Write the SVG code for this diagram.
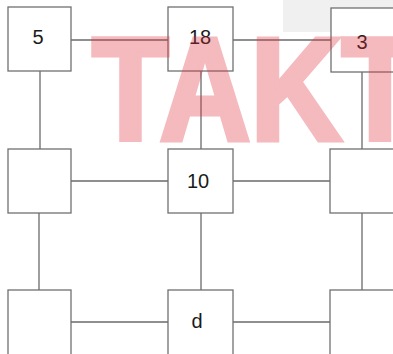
<svg xmlns="http://www.w3.org/2000/svg" width="393" height="354" viewBox="0 0 393 354">
<style>
.box{fill:#ffffff;stroke:#707070;stroke-width:1.3}
.lbl{font-family:"Liberation Sans",Arial,sans-serif;font-size:20px;fill:#1a1a1a;text-anchor:middle}
.edge{stroke:#6a6a6a;stroke-width:1.3;fill:none}
</style>
<rect x="0" y="0" width="393" height="354" fill="#ffffff"/>
<rect x="283" y="0" width="110" height="32" fill="#f0f0f0"/>
<g id="connectors">
<line class="edge" x1="71" y1="40" x2="168" y2="40"/>
<line class="edge" x1="233" y1="40" x2="331" y2="40"/>
<line class="edge" x1="71" y1="181" x2="168" y2="181"/>
<line class="edge" x1="233" y1="181" x2="330" y2="181"/>
<line class="edge" x1="71" y1="322" x2="168" y2="322"/>
<line class="edge" x1="233" y1="322" x2="330" y2="322"/>
<line class="edge" x1="40" y1="71" x2="40" y2="149"/>
<line class="edge" x1="201" y1="71" x2="201" y2="149"/>
<line class="edge" x1="362" y1="72" x2="362" y2="149"/>
<line class="edge" x1="39" y1="213" x2="39" y2="290"/>
<line class="edge" x1="201" y1="213" x2="201" y2="290"/>
<line class="edge" x1="362" y1="213" x2="362" y2="290"/>
</g>
<g id="n5"><rect class="box" x="8" y="7" width="63" height="64"/><text class="lbl" x="38" y="44">5</text></g>
<g id="n18"><rect class="box" x="168" y="7" width="65" height="64"/><text class="lbl" x="200" y="44">18</text></g>
<g id="n3"><rect class="box" x="331" y="8" width="64" height="64"/><text class="lbl" x="362" y="49">3</text></g>
<g id="n_ml"><rect class="box" x="8" y="149" width="63" height="64"/></g>
<g id="n10"><rect class="box" x="168" y="149" width="65" height="64"/><text class="lbl" x="198" y="188">10</text></g>
<g id="n_mr"><rect class="box" x="330" y="149" width="65" height="64"/></g>
<g id="n_bl"><rect class="box" x="8" y="290" width="63" height="70"/></g>
<g id="nd"><rect class="box" x="168" y="290" width="65" height="70"/><text class="lbl" x="197" y="328">d</text></g>
<g id="n_br"><rect class="box" x="330" y="290" width="65" height="70"/></g>
<text transform="translate(92,140) scale(0.863,1)" x="0" y="0" font-family="'Liberation Sans',Arial,sans-serif" font-weight="bold" font-size="146" fill="#e0303c" stroke="#e0303c" stroke-width="5" opacity="0.33">TAKT</text>
</svg>
